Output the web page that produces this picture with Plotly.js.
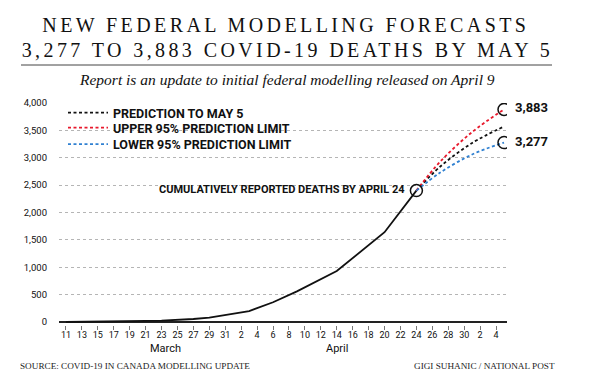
<!DOCTYPE html>
<html>
<head>
<meta charset="utf-8">
<script src="https://cdn.plot.ly/plotly-3.0.1.min.js"></script>
<style>
  html, body { margin: 0; padding: 0; background: #fff; }
  #chart { width: 593px; height: 380px; }
</style>
</head>
<body>
<div id="chart"></div>
<script>
// ---- data ----
const reportedDates = ['2020-03-11','2020-03-13','2020-03-15','2020-03-17','2020-03-19','2020-03-21','2020-03-23','2020-03-25','2020-03-27','2020-03-29','2020-03-31','2020-04-03','2020-04-06','2020-04-09','2020-04-14','2020-04-20','2020-04-24'];
const reportedDeaths = [0, 1, 4, 8, 12, 19, 24, 35, 55, 80, 128, 200, 360, 560, 930, 1640, 2400];

const projDates = ['2020-04-24','2020-04-27','2020-05-01','2020-05-05'];
const predicted = [2400, 2840, 3270, 3570];
const upper95 = [2400, 2930, 3470, 3883];
const lower95 = [2400, 2730, 3060, 3277];

const markerDates = ['2020-04-24','2020-05-05','2020-05-05'];
const markerValues = [2400, 3883, 3277];

const seriesNames = ['PREDICTION TO MAY 5', 'UPPER 95% PREDICTION LIMIT', 'LOWER 95% PREDICTION LIMIT'];

const tickDates = ['2020-03-11','2020-03-13','2020-03-15','2020-03-17','2020-03-19','2020-03-21','2020-03-23','2020-03-25','2020-03-27','2020-03-29','2020-03-31','2020-04-02','2020-04-04','2020-04-06','2020-04-08','2020-04-10','2020-04-12','2020-04-14','2020-04-16','2020-04-18','2020-04-20','2020-04-22','2020-04-24','2020-04-26','2020-04-28','2020-04-30','2020-05-02','2020-05-04'];
const tickText = ['11','13','15','17','19','21','23','25','27','29','31','2','4','6','8','10','12','14','16','18','20','22','24','26','28','30','2','4'];
const yTickVals = [0, 500, 1000, 1500, 2000, 2500, 3000, 3500, 4000];

const titleLines = ['NEW FEDERAL MODELLING FORECASTS', '3,277 TO 3,883 COVID-19 DEATHS BY MAY 5'];
const subtitle = 'Report is an update to initial federal modelling released on April 9';
const reportedLabel = 'CUMULATIVELY REPORTED DEATHS BY APRIL 24';
const endLabels = ['3,883', '3,277'];
const sourceText = 'SOURCE: COVID-19 IN CANADA MODELLING UPDATE';
const creditText = 'GIGI SUHANIC / NATIONAL POST';
const monthLabels = ['March', 'April'];
const monthDates = ['2020-03-23 12:00', '2020-04-14 00:00'];

// ---- style ----
const SANS = 'Roboto, "DejaVu Sans Condensed", sans-serif';
const SERIF = '"Liberation Serif", "DejaVu Serif", serif';
const RED = '#e8192c', BLUE = '#2f80d1', BLACK = '#111111';

const W = 593, H = 380, L = 59, R = 86, T = 103, B = 55;
const pw = W - L - R, ph = H - T - B;
const px = x => (x - L) / pw;
const py = y => (H - B - y) / ph;

const dashed = (y, name, color, legendId) => ({
  x: projDates, y: y, name: name, type: 'scatter', mode: 'lines', legend: legendId,
  line: { color: color, width: 1.8, dash: '3px,2.5px', shape: 'spline', smoothing: 1 }, hoverinfo: 'skip'
});

const data = [
  { x: reportedDates, y: reportedDeaths, type: 'scatter', mode: 'lines', showlegend: false,
    line: { color: BLACK, width: 1.8 }, hoverinfo: 'skip' },
  dashed(predicted, seriesNames[0], BLACK, 'legend'),
  dashed(upper95, seriesNames[1], RED, 'legend2'),
  dashed(lower95, seriesNames[2], BLUE, 'legend3'),
  { x: markerDates, y: markerValues, type: 'scatter', mode: 'markers', showlegend: false,
    marker: { symbol: 'circle-open', size: 12, color: BLACK, line: { width: 1.5, color: BLACK } }, hoverinfo: 'skip' }
];

const annotations = [
  { text: titleLines[0], xref: 'paper', yref: 'paper', x: px(286), y: py(25), xanchor: 'center', yanchor: 'middle', showarrow: false,
    font: { family: SERIF, size: 20, color: '#111' } },
  { text: titleLines[1], xref: 'paper', yref: 'paper', x: px(287), y: py(50), xanchor: 'center', yanchor: 'middle', showarrow: false,
    font: { family: SERIF, size: 20, color: '#111' } },
  { text: '<i>' + subtitle + '</i>', xref: 'paper', yref: 'paper', x: px(287), y: py(80), xanchor: 'center', yanchor: 'middle', showarrow: false,
    font: { family: SERIF, size: 15.5, color: '#111' } },
  { text: '<b>' + reportedLabel + '</b>', xref: 'x', yref: 'y', x: markerDates[0], y: markerValues[0], xanchor: 'right', yanchor: 'middle',
    xshift: -9, yshift: 1, showarrow: false, font: { family: SANS, size: 11, color: '#111' } },
  { text: '<b>' + endLabels[0] + '</b>', xref: 'x', yref: 'y', x: markerDates[1], y: markerValues[1], xanchor: 'left', yanchor: 'middle',
    xshift: 9, yshift: 2, showarrow: false, font: { family: SANS, size: 13, color: '#111' } },
  { text: '<b>' + endLabels[1] + '</b>', xref: 'x', yref: 'y', x: markerDates[2], y: markerValues[2], xanchor: 'left', yanchor: 'middle',
    xshift: 9, yshift: 1, showarrow: false, font: { family: SANS, size: 13, color: '#111' } },
  { text: monthLabels[0], xref: 'x', yref: 'paper', x: monthDates[0], y: py(348), xanchor: 'center', yanchor: 'middle', showarrow: false,
    font: { family: SANS, size: 11, color: '#111' } },
  { text: monthLabels[1], xref: 'x', yref: 'paper', x: monthDates[1], y: py(348), xanchor: 'center', yanchor: 'middle', showarrow: false,
    font: { family: SANS, size: 11, color: '#111' } },
  { text: sourceText, xref: 'paper', yref: 'paper', x: px(18), y: py(366), xanchor: 'left', yanchor: 'middle', showarrow: false,
    font: { family: SERIF, size: 9.2, color: '#222' } },
  { text: creditText, xref: 'paper', yref: 'paper', x: px(557), y: py(366), xanchor: 'right', yanchor: 'middle', showarrow: false,
    font: { family: SERIF, size: 9.2, color: '#222' } }
];

const legendAt = topY => ({
  x: px(63), y: py(topY), xanchor: 'left', yanchor: 'top',
  bgcolor: 'rgba(0,0,0,0)', borderwidth: 0,
  font: { family: SANS, size: 12.5, color: '#111', weight: 'bold' },
  itemwidth: 40
});

const layout = {
  width: W, height: H,
  margin: { l: L, r: R, t: T, b: B, pad: 0 },
  paper_bgcolor: '#ffffff', plot_bgcolor: '#ffffff',
  showlegend: true,
  legend: legendAt(98),
  legend2: legendAt(113),
  legend3: legendAt(129.5),
  xaxis: {
    type: 'date', range: ['2020-03-10 03:00', '2020-05-05 09:00'],
    tickmode: 'array', tickvals: tickDates, ticktext: tickText,
    ticks: 'outside', ticklen: 4, tickwidth: 1, tickcolor: '#777',
    ticklabelstandoff: -3,
    showgrid: false, showline: false, zeroline: false,
    tickfont: { family: SANS, size: 9, color: '#111' }
  },
  yaxis: {
    range: [-55, 4000], tickmode: 'array', tickvals: yTickVals, tickformat: ',d',
    showgrid: true, gridcolor: '#b5b5b5', griddash: 'dot', gridwidth: 1,
    zeroline: true, zerolinecolor: '#222', zerolinewidth: 1.3,
    showline: false, ticks: '', ticklabelstandoff: 11,
    tickfont: { family: SANS, size: 9.5, color: '#111' }
  },
  shapes: [
    { type: 'line', xref: 'paper', yref: 'paper', x0: px(21), x1: px(552), y0: py(65), y1: py(65),
      line: { color: '#444', width: 1 } }
  ],
  annotations: annotations
};

Plotly.newPlot('chart', data, layout, { displayModeBar: false, staticPlot: true }).then(function (gd) {
  gd.querySelectorAll('.annotation-text').forEach(function (t) {
    const s = t.textContent;
    if (s === titleLines[0] || s === titleLines[1]) {
      t.style.letterSpacing = '3.4px';
    }
  });
});
</script>
</body>
</html>
